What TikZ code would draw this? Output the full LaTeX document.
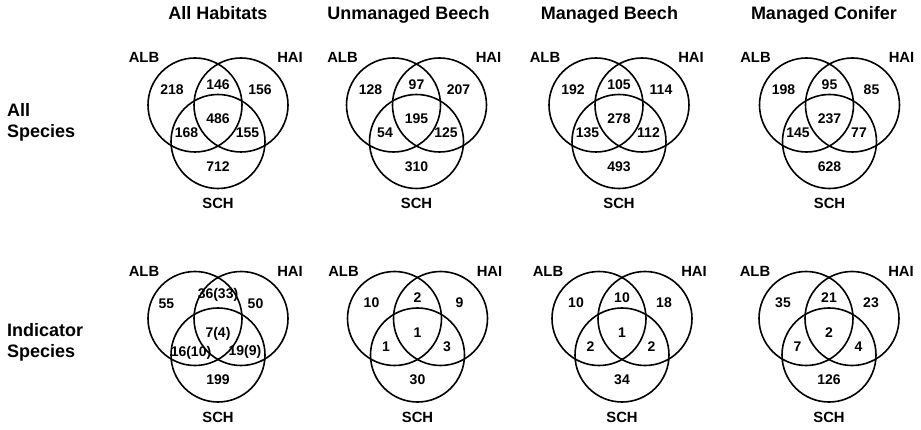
\documentclass[tikz,border=0pt]{standalone}
\usepackage{fontspec}
\setmainfont{Liberation Sans}
\tikzset{
  venn/.style={draw=black, circle, minimum size=94pt, inner sep=0pt, line width=1.6pt},
  num/.style={font=\fontsize{14}{16}\selectfont\bfseries, inner sep=0pt, text height=0.72em, text depth=0pt},
  setlab/.style={font=\fontsize{14.8}{17}\selectfont\bfseries, inner sep=0pt, text height=0.72em, text depth=0pt},
  coltitle/.style={font=\fontsize{18}{21}\selectfont\bfseries, inner sep=0pt, text height=0.72em, text depth=0pt},
  rowlab/.style={font=\fontsize{18}{21}\selectfont\bfseries, inner sep=0pt, anchor=west, text height=0.72em, text depth=0pt}
}
\newcommand\venndiag[8]{%
  \begin{scope}[shift={(#1)}]
    \node[venn] (#1A) at (-23,0) {};
    \node[venn] (#1H) at (23,0) {};
    \node[venn] (#1S) at (0,36.5) {};
    \node[setlab] (#1la) at (-74,-46) {ALB};
    \node[setlab] (#1lh) at (72,-46) {HAI};
    \node[setlab] (#1ls) at (0,100) {SCH};
    \node[num] (#1n1) at (-46,-14.3) {#2};
    \node[num] (#1n2) at (0,-19.3) {#3};
    \node[num] (#1n3) at (42,-14.3) {#4};
    \node[num] (#1n4) at (0,15) {#5};
    \node[num] (#1n5) at (-31.5,29.3) {#6};
    \node[num] (#1n6) at (29.5,29.3) {#7};
    \node[num] (#1n7) at (0,62.7) {#8};
  \end{scope}}
\begin{document}
\begin{tikzpicture}[x=1pt, y=-1pt]
\useasboundingbox (0,0) rectangle (921,430);
% diagram centres
\coordinate (T1) at (218,105);
\coordinate (T2) at (416.5,105);
\coordinate (T3) at (619,105);
\coordinate (T4) at (829.5,105);
\coordinate (B1) at (218,318.5);
\coordinate (B2) at (417.5,318.5);
\coordinate (B3) at (622,318.5);
\coordinate (B4) at (829,318.5);
% column titles
\node[coltitle] (t1) at (218,16) {All Habitats};
\node[coltitle] (t2) at (408.5,16) {Unmanaged Beech};
\node[coltitle] (t3) at (609.5,16) {Managed Beech};
\node[coltitle] (t4) at (824,16) {Managed Conifer};
% row labels
\node[rowlab] (r1a) at (7,113) {All};
\node[rowlab] (r1b) at (7,134) {Species};
\node[rowlab] (r2a) at (7,333.3) {Indicator};
\node[rowlab] (r2b) at (7,354.3) {Species};
% top row
\venndiag{T1}{218}{146}{156}{486}{168}{155}{712}
\venndiag{T2}{128}{97}{207}{195}{54}{125}{310}
\venndiag{T3}{192}{105}{114}{278}{135}{112}{493}
\venndiag{T4}{198}{95}{85}{237}{145}{77}{628}
% bottom row, first diagram (wider labels)
\begin{scope}[shift={(B1)}]
  \node[venn] (B1A) at (-23,0) {};
  \node[venn] (B1H) at (23,0) {};
  \node[venn] (B1S) at (0,36.5) {};
  \node[setlab] (B1la) at (-74,-46) {ALB};
  \node[setlab] (B1lh) at (72,-46) {HAI};
  \node[setlab] (B1ls) at (0,100) {SCH};
  \node[num] (B1n1) at (-51.5,-14) {55};
  \node[num] (B1n2) at (0,-23.5) {36(33)};
  \node[num] (B1n3) at (37.5,-14) {50};
  \node[num] (B1n4) at (0,15.5) {7(4)};
  \node[num] (B1n5) at (-27,34.8) {16(10)};
  \node[num] (B1n6) at (27,33.2) {19(9)};
  \node[num] (B1n7) at (0,62.2) {199};
\end{scope}
\venndiag{B2}{10}{2}{9}{1}{1}{3}{30}
\venndiag{B3}{10}{10}{18}{1}{2}{2}{34}
\venndiag{B4}{35}{21}{23}{2}{7}{4}{126}
\end{tikzpicture}
\end{document}
